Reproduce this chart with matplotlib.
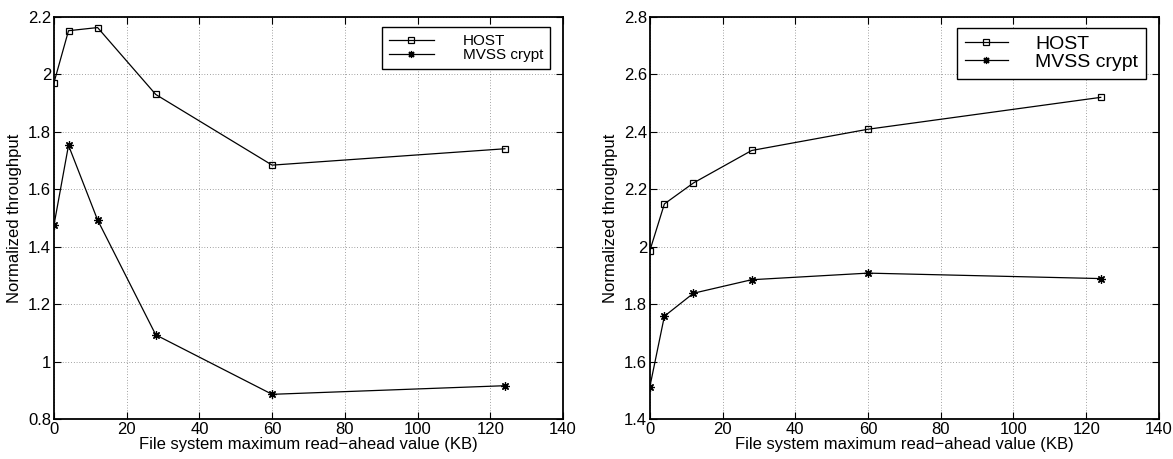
import matplotlib
matplotlib.use("Agg")
import matplotlib.pyplot as plt

plt.rcParams['font.family'] = ['Liberation Sans', 'DejaVu Sans']

# read-ahead sizes (KB)
readahead = [0, 4, 12, 28, 60, 124]

# left panel
host_a = [1.971, 2.152, 2.163, 1.930, 1.684, 1.741]
mvss_a = [1.475, 1.753, 1.493, 1.093, 0.886, 0.916]

# right panel
host_b = [1.986, 2.149, 2.222, 2.335, 2.409, 2.520]
mvss_b = [1.512, 1.758, 1.838, 1.885, 1.908, 1.889]

labels = ["HOST", "MVSS crypt"]

fig = plt.figure(figsize=(11.73, 4.59), dpi=100)
ax1 = fig.add_axes([0.046, 0.0871, 0.434, 0.876])
ax2 = fig.add_axes([0.554, 0.0871, 0.434, 0.876])

star = (8, 2, 0)


def setup(ax, host, mvss, ylim, yticks, ytl, legsize, handlelen, pad,
          spacing, bpad, anchor):
    ax.plot(readahead, host, color='black', lw=0.9, marker='s', ms=4.5,
            mfc='none', mec='black', mew=0.9, label=labels[0])
    ax.plot(readahead, mvss, color='black', lw=0.9, marker=star, ms=6,
            mec='black', mew=0.9, label=labels[1])
    ax.set_xlim(0, 140)
    ax.set_ylim(*ylim)
    ax.set_xticks(range(0, 141, 20))
    ax.set_yticks(yticks)
    ax.set_yticklabels(ytl)
    ax.grid(True, color='black', linestyle=(0, (1, 3)), linewidth=0.5, alpha=0.7)
    ax.tick_params(direction='in', top=True, right=True, labelsize=12,
                   length=5, width=0.8, pad=2)
    for s in ax.spines.values():
        s.set_linewidth(1.3)
    ax.set_xlabel("File system maximum read\u2212ahead value (KB)", fontsize=12, labelpad=0)
    ax.set_ylabel("Normalized throughput", fontsize=12, labelpad=4)
    leg = ax.legend(loc='upper right', bbox_to_anchor=anchor, borderaxespad=0,
                    fontsize=legsize, fancybox=False, edgecolor='black',
                    framealpha=1, handlelength=handlelen, handletextpad=pad,
                    labelspacing=spacing, borderpad=bpad, numpoints=1,
                    markerscale=0.85)
    leg.get_frame().set_linewidth(1.0)


setup(ax1, host_a, mvss_a, (0.8, 2.2),
      [0.8, 1.0, 1.2, 1.4, 1.6, 1.8, 2.0, 2.2],
      ["0.8", "1", "1.2", "1.4", "1.6", "1.8", "2", "2.2"],
      11, 2.9, 1.9, 0.0, 0.45, (0.974, 0.975))
setup(ax2, host_b, mvss_b, (1.4, 2.8),
      [1.4, 1.6, 1.8, 2.0, 2.2, 2.4, 2.6, 2.8],
      ["1.4", "1.6", "1.8", "2", "2.2", "2.4", "2.6", "2.8"],
      14, 2.2, 1.4, 0.0, 0.4, (0.974, 0.973))

fig.savefig("out.png", dpi=100)
